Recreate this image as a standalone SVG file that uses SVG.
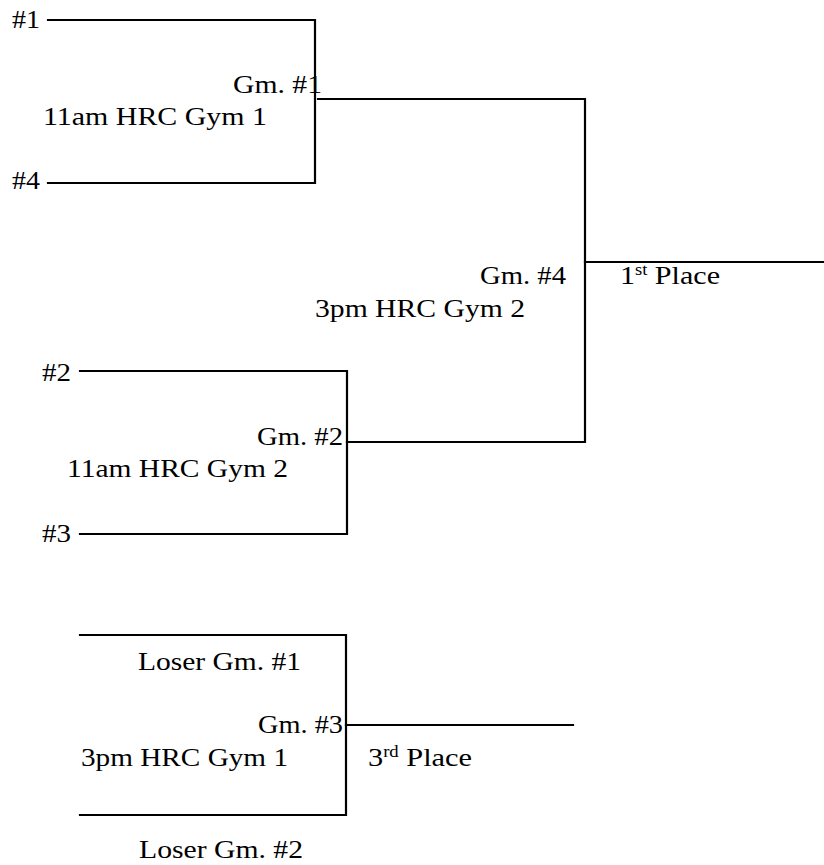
<svg xmlns="http://www.w3.org/2000/svg" width="824" height="865" viewBox="0 0 824 865">
<style>
.ln{fill:none;stroke:#000;stroke-width:2.2;stroke-linecap:square;stroke-linejoin:miter}
text{font-family:"Liberation Serif","Times New Roman",serif;font-size:26px;fill:#000}
.sup{font-size:16px}
</style>
<rect width="824" height="865" fill="#fff"/>
<g id="connectors">
<path class="ln" d="M48,20 H315 V183 H48"/>
<path class="ln" d="M318,99 H585 V442 H347"/>
<path class="ln" d="M585,262 H824"/>
<path class="ln" d="M80,371 H347 V534 H80"/>
<path class="ln" d="M80,635 H346 V815 H80"/>
<path class="ln" d="M346,725 H573"/>
</g>
<g id="seed1"><text x="12" y="28" textLength="28" lengthAdjust="spacingAndGlyphs">#1</text></g>
<g id="seed4"><text x="12" y="189" textLength="28" lengthAdjust="spacingAndGlyphs">#4</text></g>
<g id="game1">
<text x="233" y="93" textLength="89" lengthAdjust="spacingAndGlyphs">Gm. #1</text>
<text x="43" y="125" textLength="224" lengthAdjust="spacingAndGlyphs">11am HRC Gym 1</text>
</g>
<g id="game4">
<text x="480" y="284" textLength="86" lengthAdjust="spacingAndGlyphs">Gm. #4</text>
<text x="315" y="317" textLength="210" lengthAdjust="spacingAndGlyphs">3pm HRC Gym 2</text>
</g>
<g id="first"><text x="620" y="284" textLength="100" lengthAdjust="spacingAndGlyphs">1<tspan class="sup" dy="-9">st</tspan><tspan dy="9"> Place</tspan></text></g>
<g id="seed2"><text x="42" y="381" textLength="29" lengthAdjust="spacingAndGlyphs">#2</text></g>
<g id="seed3"><text x="42" y="542" textLength="29" lengthAdjust="spacingAndGlyphs">#3</text></g>
<g id="game2">
<text x="257" y="445" textLength="86" lengthAdjust="spacingAndGlyphs">Gm. #2</text>
<text x="67" y="477" textLength="221" lengthAdjust="spacingAndGlyphs">11am HRC Gym 2</text>
</g>
<g id="loser1"><text x="138" y="670" textLength="163" lengthAdjust="spacingAndGlyphs">Loser Gm. #1</text></g>
<g id="game3">
<text x="258" y="733" textLength="85" lengthAdjust="spacingAndGlyphs">Gm. #3</text>
<text x="81" y="766" textLength="207" lengthAdjust="spacingAndGlyphs">3pm HRC Gym 1</text>
</g>
<g id="third"><text x="368" y="766" textLength="104" lengthAdjust="spacingAndGlyphs">3<tspan class="sup" dy="-9">rd</tspan><tspan dy="9"> Place</tspan></text></g>
<g id="loser2"><text x="139" y="858" textLength="164" lengthAdjust="spacingAndGlyphs">Loser Gm. #2</text></g>
</svg>
